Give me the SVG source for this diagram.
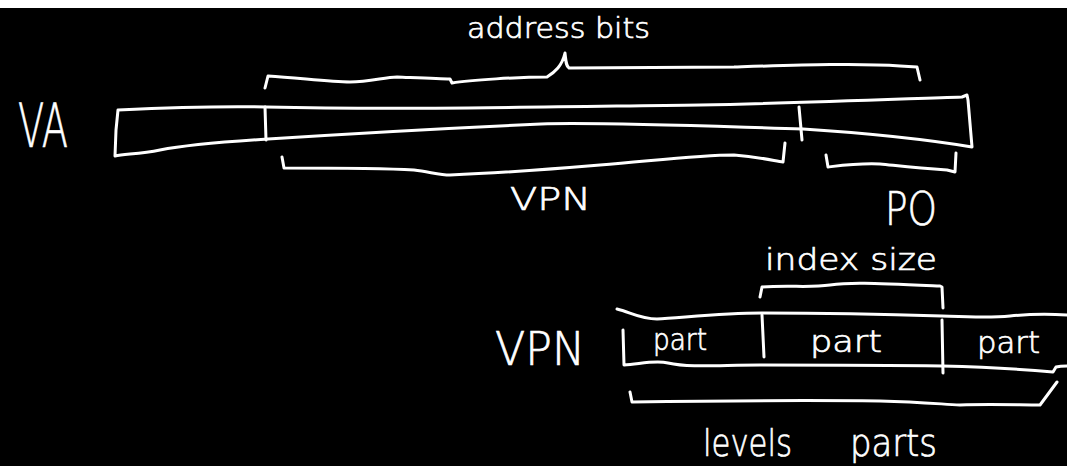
<svg xmlns="http://www.w3.org/2000/svg" width="1067" height="466" viewBox="0 0 1067 466">
<style>
.ln{fill:none;stroke:#fff;stroke-width:3;stroke-linecap:round;stroke-linejoin:round}
.tx{fill:#fff;stroke:#fff;stroke-width:0.7;font-family:"DejaVu Sans","Liberation Sans",sans-serif;font-weight:200}
</style>
<rect x="0" y="0" width="1067" height="466" fill="#000"/>
<rect x="0" y="0" width="1067" height="8" fill="#fff"/>
<g id="va">
<text class="tx" x="18" y="147" font-size="60" textLength="50" lengthAdjust="spacingAndGlyphs">VA</text>
<path class="ln" d="M118,110 C160,108 220,106 266,107 C400,110 540,107 700,105 C800,103 900,99 962,97 L967,95 L968,100 L972,147 C930,140 880,134 803,129 C700,126 600,122 541,124 C450,128 360,133 268,139 C220,142 180,146 160,150 C140,154 125,154 115,156 L116,130 Z"/>
<path class="ln" d="M265,107 L266,140"/>
<path class="ln" d="M799,107 L802,140"/>
</g>
<g id="address-bits">
<text class="tx" x="467" y="38" font-size="28" textLength="183" lengthAdjust="spacingAndGlyphs">address bits</text>
<path class="ln" d="M265,88 L268,76 C300,78 330,82 350,82 C370,82 385,77 397,77 C420,78 440,79 450,79 L452,83 C470,80 520,77 547,77 C555,72 562,66 565,53 C566,62 566,66 569,68 C600,68 700,67 734,67 C800,65 860,63 900,66 L917,67 L920,80"/>
</g>
<g id="vpn-top">
<text class="tx" x="510" y="210" font-size="32" textLength="81" lengthAdjust="spacingAndGlyphs">VPN</text>
<path class="ln" d="M282,157 L284,168 C320,168 380,168 414,170 C430,172 440,175 450,175 C500,173 541,170 600,165 C660,160 700,155 734,155 C760,157 775,161 783,162 L785,143"/>
</g>
<g id="po">
<text class="tx" x="885" y="225" font-size="46" textLength="52" lengthAdjust="spacingAndGlyphs">PO</text>
<path class="ln" d="M826,155 L828,167 C845,165 860,163 880,164 C900,166 915,168 947,170 L955,172 L956,153"/>
</g>
<g id="index-size">
<text class="tx" x="765" y="270" font-size="30" textLength="172" lengthAdjust="spacingAndGlyphs">index size</text>
<path class="ln" d="M760,297 L762,287 C790,285 810,288 830,285 C850,282 870,283 940,286 L942,287 L943,308"/>
</g>
<g id="vpn-box">
<text class="tx" x="495" y="365" font-size="46" textLength="90" lengthAdjust="spacingAndGlyphs">VPN</text>
<path class="ln" d="M617,309 C630,312 640,319 657,319 C680,318 720,313 762,313 C820,313 880,314 942,316 C970,317 990,318 1010,316 C1030,314 1050,314 1067,315"/>
<path class="ln" d="M623,330 L624,365 C640,364 655,360 668,363 C690,368 720,365 760,365 C820,365 880,365 942,366 C980,367 1020,369 1053,372 L1056,367 C1060,366 1064,366 1067,366"/>
<path class="ln" d="M762,315 L764,357"/>
<path class="ln" d="M942,320 L943,373"/>
<text class="tx" x="653" y="350" font-size="30" textLength="54" lengthAdjust="spacingAndGlyphs">part</text>
<text class="tx" x="810" y="352" font-size="30" textLength="72" lengthAdjust="spacingAndGlyphs">part</text>
<text class="tx" x="977" y="353" font-size="31" textLength="63" lengthAdjust="spacingAndGlyphs">part</text>
</g>
<g id="levels-parts">
<path class="ln" d="M630,392 L632,402 C700,401 800,400 880,401 C920,402 940,404 960,405 C990,404 1020,405 1040,405 L1057,382"/>
<text class="tx" y="456" font-size="38"><tspan x="703" textLength="89" lengthAdjust="spacingAndGlyphs">levels</tspan> <tspan x="850" textLength="87" lengthAdjust="spacingAndGlyphs">parts</tspan></text>
</g>
</svg>
